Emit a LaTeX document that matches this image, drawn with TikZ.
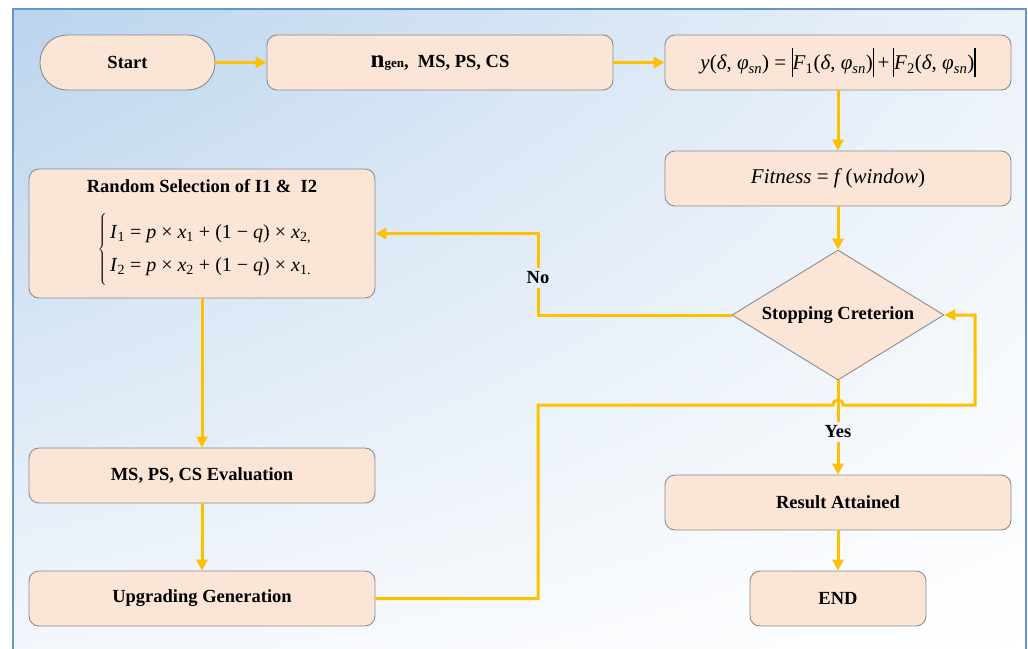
\documentclass[tikz,border=0pt]{standalone}
\usepackage{fontspec}
\setmainfont{Liberation Serif}
\usetikzlibrary{arrows.meta,shapes.geometric,shadings}
\definecolor{boxfill}{RGB}{251,229,214}
\definecolor{boxdraw}{RGB}{140,140,140}
\definecolor{arr}{RGB}{255,192,0}
\definecolor{framec}{RGB}{100,150,205}
\definecolor{bgA}{RGB}{186,212,237}
\definecolor{bgB}{RGB}{236,242,250}
\definecolor{bgC}{RGB}{244,247,252}
\definecolor{bgD}{RGB}{255,255,255}
\newcommand\mi[1]{\textit{#1}}
\newcommand\vbar{\rule[-0.32em]{0.055em}{1.35em}}
\begin{document}
\begin{tikzpicture}[x=1pt,y=-1pt,
  box/.style={draw=boxdraw, fill=boxfill, line width=0.9pt, rounded corners=10pt,
    minimum width=346pt, minimum height=55pt, inner sep=0pt,
    font=\fontsize{18.5}{22}\selectfont\bfseries},
  lbl/.style={font=\fontsize{18.5}{22}\selectfont\bfseries},
  eqf/.style={font=\fontsize{21}{25}\selectfont\mdseries},
  plain/.style={draw=arr, line width=3pt},
  conn/.style={plain, -{Triangle[length=11pt,width=11pt]}}]
\useasboundingbox (0,0) rectangle (1028,648);
\shade[upper left=bgA, upper right=bgB, lower left=bgC, lower right=bgD] (13,9) rectangle (1026,660);
\draw[framec, line width=1.2pt] (13,660) -- (13,9) -- (1026,9) -- (1026,660);

\node[box, minimum width=175pt, rounded corners=27pt] (start) at (127.5,62.5) {Start};
\node[box] (par) at (440,62.5) {{\fontsize{25}{25}\selectfont n}{\fontsize{13}{13}\selectfont gen}, \ MS, PS, CS};
\node[box, eqf] (yfun) at (838,62.5)
  {\mi{y}(\mi{δ}, \mi{φ}\textsubscript{\mi{sn}}) = \vbar\mi{F}\textsubscript{1}(\mi{δ}, \mi{φ}\textsubscript{\mi{sn}})\vbar\,+\,\vbar\mi{F}\textsubscript{2}(\mi{δ}, \mi{φ}\textsubscript{\mi{sn}})\vbar};
\node[box, eqf] (fit) at (838,178.5) {\mi{Fitness} = \mi{f}\,(\mi{window})};
\node[diamond, aspect=1.63, draw=boxdraw, fill=boxfill, line width=0.9pt, minimum width=212pt, minimum height=130pt,
  inner sep=0pt, lbl] (dia) at (838,315) {Stopping Creterion};
\node[box, minimum height=129pt] (rand) at (202,233.5) {};
\node[lbl] (randt) at (202,186) {Random Selection of I1 \&\ \ I2};
\node[font=\fontsize{20}{24}\selectfont] (randeq) at (205,251) {$\left\{\rule[-33pt]{0pt}{66pt}\,\begin{tabular}{@{}l@{}}
  \mi{I}\textsubscript{1} = \mi{p} × \mi{x}\textsubscript{1} + (1 − \mi{q}) × \mi{x}\textsubscript{2,}\\[9pt]
  \mi{I}\textsubscript{2} = \mi{p} × \mi{x}\textsubscript{2} + (1 − \mi{q}) × \mi{x}\textsubscript{1.}
  \end{tabular}\right.$};
\node[box] (eval) at (202,475.5) {MS, PS, CS Evaluation};
\node[box] (up) at (202,598.5) {Upgrading Generation};
\node[box] (res) at (838,502.5) {Result Attained};
\node[box, minimum width=176pt] (end) at (838,598.5) {END};
\node[lbl] (no) at (538,278) {No};
\node[lbl] (yes) at (838,432) {Yes};

\draw[conn] (start) -- (par);
\draw[conn] (par) -- (yfun);
\draw[conn] (yfun) -- (fit);
\draw[conn] (fit) -- (dia);
\draw[plain] (dia.west) -| (no.south);
\draw[conn] (no.north) |- (rand.east);
\draw[plain] (dia.south) -- (yes.north);
\draw[conn] (yes.south) -- (res.north);
\draw[conn] (rand) -- (eval);
\draw[conn] (eval) -- (up);
\draw[conn] (res) -- (end);
\coordinate (c1) at (538,405);
\coordinate (j1) at (833,405);
\coordinate (j2) at (843,405);
\coordinate (c2) at (975,405);
\draw[conn] (up.east) -| (c1) -- (j1) .. controls (833,398.3) and (843,398.3) .. (j2) -- (c2) |- (dia.east);
\end{tikzpicture}
\end{document}
